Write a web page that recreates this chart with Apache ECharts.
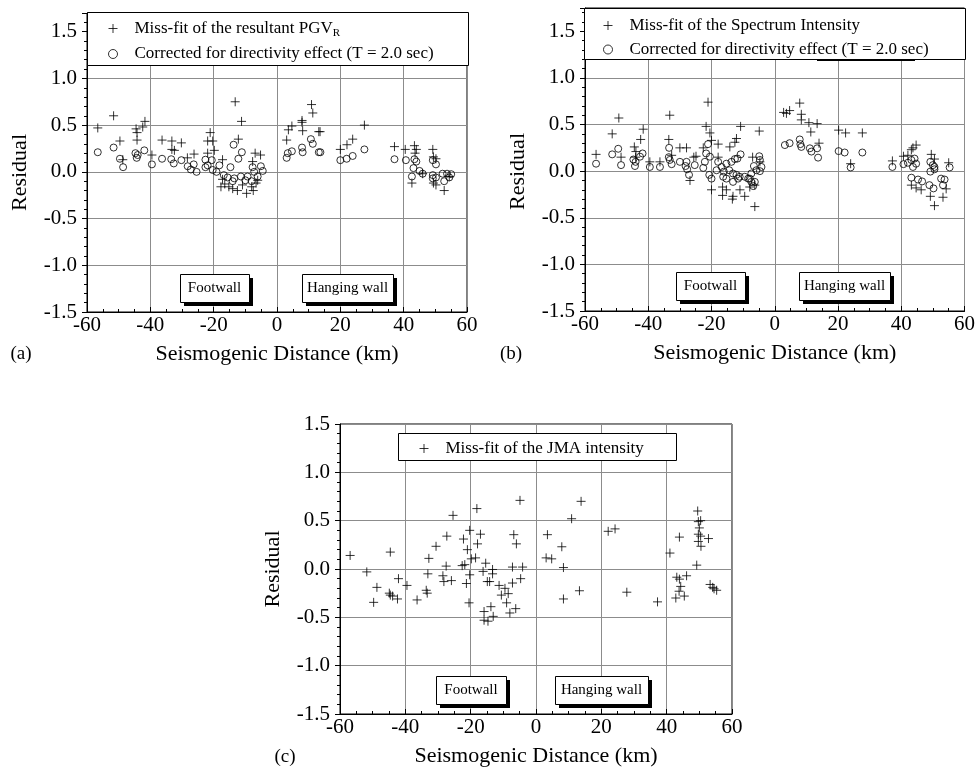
<!DOCTYPE html>
<html>
<head>
<meta charset="utf-8">
<title>Residual vs seismogenic distance</title>
<script src="https://cdn.jsdelivr.net/npm/echarts@6/dist/echarts.min.js"></script>
<style>
  html, body { margin: 0; padding: 0; background: #fff; }
  #chart { width: 978px; height: 778px; }
</style>
</head>
<body>
<div id="chart"></div>
<script>
// (a) PGV residuals [distance km, residual]
var pgvMissFit = [
  [-56.6,0.47],[-51.6,0.60],[-49.6,0.33],[-48.7,0.13],[-44.5,0.46],[-44.2,0.42],[-42.4,0.48],[-41.7,0.54],
  [-44.2,0.34],[-39.5,0.18],[-36.3,0.34],[-33.2,0.33],[-33.2,0.24],[-32.4,0.23],[-30.2,0.31],[-28.3,0.15],
  [-26.2,0.19],[-21.9,0.33],[-21.1,0.42],[-20.3,0.33],[-21.9,0.20],[-19.8,0.23],[-17.2,0.13],[-17.2,-0.08],
  [-17.7,-0.16],[-16.5,-0.13],[-15.2,-0.16],[-14.0,-0.18],[-12.5,-0.20],[-13.2,0.75],[-11.2,0.54],[-12.2,0.35],
  [-10.9,-0.14],[-9.6,-0.23],[-8.0,-0.16],[-7.5,-0.20],[-6.9,0.20],[-5.2,0.18],[-7.7,0.11],[-6.1,-0.09],[-6.6,-0.12],
  [3.05,0.34],[3.6,0.45],[4.7,0.49],[7.9,0.55],[7.9,0.53],[8.1,0.44],[10.9,0.72],[11.3,0.63],[13.2,0.43],
  [13.6,0.43],[20.0,0.24],[22.1,0.29],[23.9,0.35],[27.6,0.50],[37.1,0.27],[40.5,0.24],[43.4,0.28],[44.0,0.24],
  [43.6,0.20],[49.2,0.24],[49.4,0.16],[50.2,0.14],[42.6,-0.12],[49.4,-0.12],[50.2,-0.14],[52.8,-0.20],
  [54.4,-0.05],[46.0,-0.02]
];
var pgvCorrected = [
  [-56.6,0.21],[-51.6,0.26],[-49.6,0.14],[-48.6,0.05],[-44.7,0.20],[-44.0,0.18],[-44.3,0.15],[-41.9,0.23],
  [-39.5,0.08],[-36.3,0.14],[-33.4,0.135],[-32.6,0.09],[-30.2,0.125],[-28.2,0.06],[-27.2,0.025],[-26.3,0.08],
  [-25.4,0.0],[-22.6,0.13],[-21.9,0.07],[-20.6,0.125],[-22.6,0.05],[-20.3,0.02],[-18.2,0.07],[-19.1,0.0],
  [-14.7,0.05],[-13.7,0.29],[-11.1,0.21],[-12.2,0.14],[-16.8,-0.035],[-15.6,-0.06],[-13.5,-0.07],[-11.4,-0.05],
  [-9.3,-0.05],[-7.7,0.05],[-7.2,0.0],[-6.1,-0.05],[-5.1,0.06],[-4.5,0.01],[-14.0,-0.1],[-10.0,-0.09],[-8.0,-0.1],
  [3.05,0.15],[3.4,0.20],[4.7,0.22],[7.9,0.26],[8.1,0.21],[10.7,0.35],[11.3,0.30],[13.2,0.21],[13.7,0.21],
  [20.0,0.125],[22.0,0.14],[23.9,0.17],[27.6,0.24],[37.1,0.135],[40.7,0.125],[43.4,0.135],[44.0,0.11],
  [43.1,0.04],[45.0,0.01],[46.0,-0.02],[42.6,-0.05],[49.2,0.125],[50.2,0.08],[49.2,-0.035],[50.2,-0.06],
  [52.3,-0.02],[53.7,-0.02],[55.0,-0.025],[54.4,-0.06],[52.8,-0.10],[49.2,-0.07]
];

// (b) Spectrum Intensity residuals
var siMissFit = [
  [-56.5,0.18],[-51.4,0.40],[-49.3,0.57],[-48.6,0.15],[-44.4,0.26],[-43.9,0.21],[-44.0,0.15],[-42.4,0.34],
  [-41.6,0.45],[-39.5,0.10],[-36.3,0.10],[-33.2,0.60],[-33.5,0.34],[-32.6,0.17],[-30.0,0.25],[-27.9,0.25],
  [-26.8,-0.10],[-25.6,0.15],[-24.9,0.16],[-22.6,0.25],[-21.7,0.48],[-21.1,0.74],[-20.5,0.41],[-20.0,0.33],
  [-17.9,0.29],[-17.9,0.15],[-14.2,0.26],[-12.6,0.31],[-12.1,0.35],[-10.8,0.48],[-4.9,0.43],[-7.0,0.15],
  [-4.7,0.10],[-20.0,-0.20],[-16.5,-0.26],[-16.5,-0.17],[-15.3,-0.20],[-13.2,-0.27],[-13.4,-0.30],[-11.0,-0.20],
  [-9.5,-0.27],[-7.9,-0.17],[-6.3,-0.38],[-6.3,-0.15],
  [2.8,0.63],[3.7,0.62],[4.7,0.65],[7.9,0.73],[8.4,0.61],[8.4,0.55],[10.8,0.52],[13.4,0.51],[11.4,0.42],
  [14.0,0.30],[20.2,0.44],[22.4,0.41],[27.7,0.41],[24.0,0.08],[37.2,0.11],[40.7,0.16],[42.1,0.17],[43.2,0.23],
  [43.7,0.25],[44.7,0.28],[49.5,0.18],[50.5,0.13],[55.0,0.09],[43.2,-0.15],[44.7,-0.18],[46.3,-0.20],
  [49.2,-0.27],[50.5,-0.37],[53.2,-0.28],[54.2,-0.19]
];
var siCorrected = [
  [-56.5,0.08],[-51.4,0.18],[-49.5,0.24],[-48.6,0.065],[-44.7,0.125],[-44.0,0.10],[-44.2,0.055],[-42.6,0.155],
  [-41.8,0.19],[-39.5,0.045],[-36.3,0.045],[-33.4,0.25],[-33.5,0.15],[-33.2,0.12],[-32.6,0.075],[-30.0,0.10],
  [-28.2,0.055],[-27.9,0.10],[-27.7,0.02],[-27.1,-0.04],[-25.3,0.065],[-22.6,0.035],[-22.1,0.10],[-21.7,0.19],
  [-21.1,0.29],[-20.5,0.155],[-20.7,-0.04],[-20.0,-0.08],[-18.4,0.01],[-17.9,0.10],[-16.8,0.045],[-16.1,-0.005],
  [-15.3,0.08],[-16.3,-0.06],[-15.3,-0.08],[-14.4,0.01],[-13.7,0.10],[-12.6,0.13],[-11.8,0.135],[-10.8,0.18],
  [-13.2,-0.025],[-12.1,-0.04],[-11.6,-0.08],[-13.2,-0.115],[-11.1,-0.06],[-9.5,-0.06],[-8.4,-0.08],[-7.4,-0.115],
  [-6.3,-0.115],[-7.4,-0.025],[-6.6,0.055],[-5.8,0.01],[-4.9,0.16],[-4.7,0.12],[-4.2,0.045],[-4.7,0.0],
  [-6.8,-0.16],[-7.9,-0.08],
  [3.2,0.28],[4.7,0.30],[7.9,0.34],[8.1,0.29],[8.4,0.26],[11.1,0.245],[11.6,0.21],[13.4,0.245],[13.7,0.145],
  [20.2,0.215],[22.1,0.20],[27.7,0.20],[24.0,0.04],[37.2,0.045],[40.7,0.075],[42.1,0.09],[43.2,0.12],
  [44.2,0.135],[44.7,0.08],[43.7,0.045],[49.2,0.10],[50.0,0.065],[50.5,0.02],[49.2,-0.005],[50.5,0.045],
  [55.3,0.04],[43.2,-0.07],[45.3,-0.09],[46.6,-0.11],[48.9,-0.15],[50.2,-0.185],[52.6,-0.08],[53.7,-0.09],
  [53.2,-0.15]
];

// (c) JMA intensity residuals
var jmaMissFit = [
  [-56.9,0.14],[-51.8,-0.03],[-49.7,-0.345],[-48.7,-0.19],[-44.6,0.175],[-44.9,-0.25],[-44.6,-0.27],[-43.9,-0.28],
  [-42.4,-0.31],[-42.1,-0.10],[-39.5,-0.17],[-36.4,-0.32],[-33.6,-0.22],[-33.3,-0.25],[-33.1,-0.05],[-32.8,0.11],
  [-30.6,0.235],[-28.5,-0.07],[-28.2,-0.13],[-27.5,0.03],[-27.3,0.34],[-25.9,-0.12],[-25.4,0.555],[-22.6,0.035],
  [-22.2,0.31],[-21.8,0.045],[-21.3,-0.15],[-21.0,0.20],[-20.5,-0.35],[-20.3,-0.06],[-20.3,0.40],[-19.8,0.105],
  [-18.5,0.115],[-18.1,0.625],[-17.9,0.26],[-17.0,0.36],[-16.2,-0.025],[-15.4,0.06],[-14.9,-0.13],[-14.2,-0.13],
  [-13.3,-0.005],[-13.3,-0.05],[-15.9,-0.44],[-15.9,-0.53],[-14.7,-0.54],[-13.8,-0.39],[-13.1,-0.49],[-11.3,-0.17],
  [-10.6,-0.27],[-9.5,-0.20],[-9.0,-0.35],[-8.5,-0.255],[-8.0,-0.455],[-7.2,-0.145],[-7.2,0.02],[-6.8,0.355],
  [-6.0,0.26],[-4.9,0.71],[-4.7,-0.10],[-4.1,0.02],[-6.2,-0.41],
  [13.8,0.70],[10.9,0.52],[3.5,0.355],[7.9,0.23],[3.1,0.115],[4.8,0.105],[8.4,0.015],[13.3,-0.225],[8.4,-0.31],
  [22.1,0.39],[24.2,0.415],[27.8,-0.24],[37.2,-0.34],[41.0,0.165],[43.9,0.33],[49.5,0.60],[49.7,0.49],
  [50.4,0.50],[50.0,0.425],[49.7,0.36],[50.4,0.34],[52.8,0.315],[49.7,0.285],[50.5,0.235],[49.2,0.04],
  [43.1,-0.085],[43.9,-0.105],[46.1,-0.07],[44.3,-0.18],[43.8,-0.23],[42.8,-0.30],[45.4,-0.28],[53.3,-0.16],
  [54.5,-0.205],[55.3,-0.22],[54.1,-0.19]
];

var serif = '"Liberation Serif", "DejaVu Serif", serif';
var PLUS = 'path://M0,5L10,5M5,0L5,10';
var gridColor = '#8c8c8c';

var NAME_PGV = 'Miss-fit of the resultant PGV';
var NAME_SI = 'Miss-fit of the Spectrum Intensity';
var NAME_JMA = 'Miss-fit of the JMA intensity';
var NAME_COR = 'Corrected for directivity effect (T = 2.0 sec)';

function xAxisOf(gi) {
  return {
    gridIndex: gi, type: 'value', min: -60, max: 60, interval: 20,
    name: 'Seismogenic Distance (km)', nameLocation: 'middle', nameGap: 31,
    nameTextStyle: { fontFamily: serif, fontSize: 22, color: '#000' },
    axisLine: { onZero: false, lineStyle: { color: '#000', width: 1 } },
    axisTick: { inside: true, length: 5, lineStyle: { color: '#000' } },
    minorTick: { show: true, splitNumber: 4, length: 3, lineStyle: { color: '#000' } },
    axisLabel: { fontFamily: serif, fontSize: 21, color: '#000', margin: 3 },
    splitLine: { show: true, lineStyle: { color: gridColor, width: 1 } }
  };
}
function yAxisOf(gi, max, namePad) {
  return {
    gridIndex: gi, type: 'value', min: -1.5, max: max, interval: 0.5,
    name: 'Residual', nameLocation: 'middle', nameGap: 56,
    nameTextStyle: { fontFamily: serif, fontSize: 22, color: '#000', padding: [0, namePad, 0, 0] },
    axisLine: { onZero: false, lineStyle: { color: '#000', width: 1 } },
    axisTick: { inside: false, length: 5, lineStyle: { color: '#000' } },
    minorTick: { show: true, splitNumber: 5, length: 3, lineStyle: { color: '#000' } },
    axisLabel: {
      fontFamily: serif, fontSize: 21, color: '#000', margin: 10,
      formatter: function (v) { return v > 1.5001 ? '' : v.toFixed(1); }
    },
    splitLine: { show: true, lineStyle: { color: gridColor, width: 1 } }
  };
}
function plusSeries(name, gi, data) {
  return {
    name: name, type: 'scatter', xAxisIndex: gi, yAxisIndex: gi, data: data,
    symbol: PLUS, symbolSize: 9, z: 3,
    itemStyle: { color: 'rgba(0,0,0,0)', borderColor: '#000', borderWidth: 1 },
    emphasis: { disabled: true }
  };
}
function circleSeries(name, gi, data) {
  return {
    name: name, type: 'scatter', xAxisIndex: gi, yAxisIndex: gi, data: data,
    symbol: 'circle', symbolSize: 7, z: 2,
    itemStyle: { color: 'rgba(255,255,255,0)', borderColor: '#000', borderWidth: 1 },
    emphasis: { disabled: true }
  };
}
function legendOf(left, top, names) {
  return {
    left: left, top: top, orient: 'vertical', itemWidth: 9, itemHeight: 9, itemGap: 7,
    selectedMode: false, z: 20,
    itemStyle: { color: 'rgba(255,255,255,0)', borderColor: '#000', borderWidth: 1 },
    data: names.map(function (n) {
      return { name: n, icon: n === NAME_COR ? 'circle' : PLUS,
        itemStyle: { color: 'rgba(255,255,255,0)', borderColor: '#000', borderWidth: 1 } };
    }),
    formatter: function (n) { return n === NAME_PGV ? '{t|' + n + '}{s|R}' : '{t|' + n + '}'; },
    textStyle: {
      fontFamily: serif, fontSize: 17, color: '#000', padding: [0, 0, 0, 12],
      rich: {
        t: { fontFamily: serif, fontSize: 17, color: '#000' },
        s: { fontFamily: serif, fontSize: 11, color: '#000', padding: [9, 0, 0, 0] }
      }
    }
  };
}
function box(x, y, w, h) {
  return { type: 'rect', z: 10, shape: { x: x + 0.5, y: y + 0.5, width: w, height: h },
    style: { fill: '#fff', stroke: '#000', lineWidth: 1 } };
}
function wallBox(x, y, w, h, label) {
  return [
    { type: 'rect', z: 9, shape: { x: x + 4, y: y + 4, width: w, height: h }, style: { fill: '#000' } },
    box(x, y, w, h),
    { type: 'text', z: 11, style: { text: label, x: x + w / 2, y: y + h / 2, font: '15px ' + serif,
      fill: '#000', align: 'center', verticalAlign: 'middle', textAlign: 'center', textVerticalAlign: 'middle' } }
  ];
}
function panelTag(x, y, t) {
  return { type: 'text', z: 11, style: { text: t, x: x, y: y, font: '19px ' + serif, fill: '#000',
    align: 'center', verticalAlign: 'middle', textAlign: 'center', textVerticalAlign: 'middle' } };
}

var chart = echarts.init(document.getElementById('chart'), null, { renderer: 'canvas' });
chart.setOption({
  backgroundColor: '#fff',
  animation: false,
  grid: [
    { left: 87, top: 13, width: 380, height: 299, show: true, borderColor: '#000', borderWidth: 1 },
    { left: 585, top: 8, width: 380, height: 303, show: true, borderColor: '#000', borderWidth: 1 },
    { left: 340, top: 424, width: 392, height: 290, show: true, borderColor: '#000', borderWidth: 1 }
  ],
  xAxis: [xAxisOf(0), xAxisOf(1), xAxisOf(2)],
  yAxis: [yAxisOf(0, 1.7, 20), yAxisOf(1, 1.75, 24), yAxisOf(2, 1.5, 0)],
  legend: [
    legendOf(103, 15, [NAME_PGV, NAME_COR]),
    legendOf(598, 12, [NAME_SI, NAME_COR]),
    legendOf(414, 435, [NAME_JMA])
  ],
  graphic: [
    box(87, 12, 381, 53),
    box(584, 8, 381, 51),
    box(398, 433, 278, 27),
    { type: 'line', z: 10, shape: { x1: 817, y1: 60, x2: 915, y2: 60 }, style: { stroke: '#000', lineWidth: 2 } }
  ].concat(
    wallBox(180, 274, 69, 28, 'Footwall'),
    wallBox(302, 274, 91, 28, 'Hanging wall'),
    wallBox(676, 272, 69, 28, 'Footwall'),
    wallBox(799, 272, 91, 28, 'Hanging wall'),
    wallBox(436, 676, 70, 28, 'Footwall'),
    wallBox(555, 676, 93, 28, 'Hanging wall'),
    [panelTag(21, 354, '(a)'), panelTag(511, 354, '(b)'), panelTag(285, 757, '(c)')]
  ),
  series: [
    plusSeries(NAME_PGV, 0, pgvMissFit),
    circleSeries(NAME_COR, 0, pgvCorrected),
    plusSeries(NAME_SI, 1, siMissFit),
    circleSeries(NAME_COR, 1, siCorrected),
    plusSeries(NAME_JMA, 2, jmaMissFit)
  ]
});
</script>
</body>
</html>
